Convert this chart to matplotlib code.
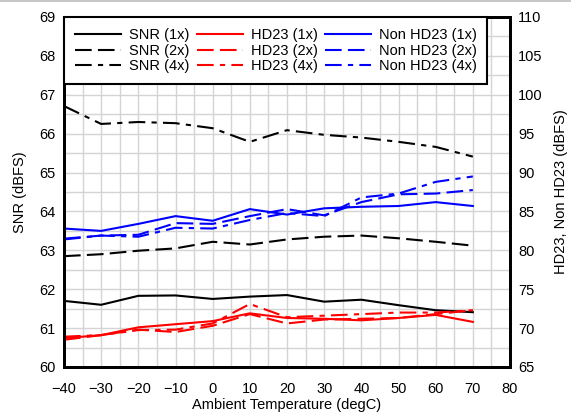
import matplotlib
matplotlib.use("Agg")
import matplotlib.pyplot as plt
from matplotlib.ticker import MultipleLocator
from matplotlib.lines import Line2D

plt.rcParams['font.family'] = ['Liberation Sans', 'DejaVu Sans']

# ambient temperature (degC)
temp = [-40, -30, -20, -10, 0, 10, 20, 30, 40, 50, 60, 70]

# SNR (dBFS), left axis
snr_1x = [61.70, 61.60, 61.83, 61.84, 61.75, 61.81, 61.85, 61.68, 61.73, 61.59, 61.46, 61.41]
snr_2x = [62.85, 62.90, 62.99, 63.05, 63.22, 63.15, 63.28, 63.35, 63.38, 63.31, 63.22, 63.12]
snr_4x = [66.71, 66.25, 66.30, 66.27, 66.14, 65.79, 66.09, 65.97, 65.90, 65.79, 65.66, 65.41]

# HD23 / Non HD23 (dBFS), right axis
hd23_1x = [68.7, 69.1, 70.1, 70.5, 70.9, 71.9, 71.3, 71.2, 71.0, 71.3, 71.7, 70.8]
hd23_2x = [68.5, 69.1, 69.8, 69.5, 70.3, 71.8, 70.6, 71.1, 71.2, 71.3, 71.8, 72.3]
hd23_4x = [68.9, 69.1, 69.75, 69.8, 70.6, 73.1, 71.4, 71.6, 71.8, 72.0, 72.0, 72.3]
non_1x = [82.8, 82.5, 83.4, 84.4, 83.8, 85.3, 84.6, 85.4, 85.6, 85.7, 86.2, 85.7]
non_2x = [81.5, 81.9, 82.0, 83.5, 83.4, 84.4, 85.3, 84.5, 86.2, 87.2, 87.3, 87.75]
non_4x = [81.4, 81.9, 81.75, 82.9, 82.8, 83.9, 84.8, 84.4, 86.8, 87.3, 88.8, 89.5]

styles = {'1x': '-', '2x': (0, (8, 3)), '4x': (0, (8, 3, 2.5, 3))}
lw = 1.5

fig = plt.figure(figsize=(5.71, 4.16), dpi=100)
ax = fig.add_axes([64 / 571, 49 / 416, 446 / 571, 350 / 416])
ax2 = ax.twinx()

h_snr, h_hd, h_non = [], [], []
for key, ys in zip(['1x', '2x', '4x'], [snr_1x, snr_2x, snr_4x]):
    ln, = ax.plot(temp, ys, color='black', lw=lw, linestyle=styles[key], label=f'SNR ({key})')
    h_snr.append(ln)
for key, ys in zip(['1x', '2x', '4x'], [hd23_1x, hd23_2x, hd23_4x]):
    ln, = ax2.plot(temp, ys, color='#ff0000', lw=lw, linestyle=styles[key], label=f'HD23 ({key})')
    h_hd.append(ln)
for key, ys in zip(['1x', '2x', '4x'], [non_1x, non_2x, non_4x]):
    ln, = ax2.plot(temp, ys, color='#0000ff', lw=lw, linestyle=styles[key], label=f'Non HD23 ({key})')
    h_non.append(ln)

ax.set_xlim(-40, 80)
ax.set_ylim(60, 69)
ax2.set_ylim(65, 110)
ax.xaxis.set_major_locator(MultipleLocator(10))
ax.xaxis.set_minor_locator(MultipleLocator(5))
ax.yaxis.set_major_locator(MultipleLocator(1))
ax.yaxis.set_minor_locator(MultipleLocator(0.5))
ax2.yaxis.set_major_locator(MultipleLocator(5))
ax.grid(which='both', color='#d4d4d4', lw=1)
ax.set_axisbelow(True)

for a in (ax, ax2):
    a.tick_params(which='both', length=0, labelsize=10.5, pad=6)
    for s in a.spines.values():
        s.set_linewidth(2)
        s.set_color('black')
ax.tick_params(axis='x', pad=11)

ax.set_xlabel('Ambient Temperature (degC)', fontsize=10.5, labelpad=1)
ax.set_ylabel('SNR (dBFS)', fontsize=10.5, labelpad=9)
ax2.set_ylabel('HD23, Non HD23 (dBFS)', fontsize=10.5, labelpad=8)

handles = h_snr + h_hd + h_non
leg = ax2.legend(handles=handles, loc='upper left', bbox_to_anchor=(0, 1), borderaxespad=0,
                 ncol=3, fontsize=10.5, frameon=True, fancybox=False, framealpha=1,
                 edgecolor='black', handlelength=3.15, handletextpad=0.55, columnspacing=0.5,
                 labelspacing=0.12, borderpad=0.75)
leg.get_frame().set_linewidth(1.5)

fig.add_artist(Line2D([0, 1], [0.998, 0.998], color='#c8c8c8', lw=1.5))

fig.savefig('out.png', dpi=100)
